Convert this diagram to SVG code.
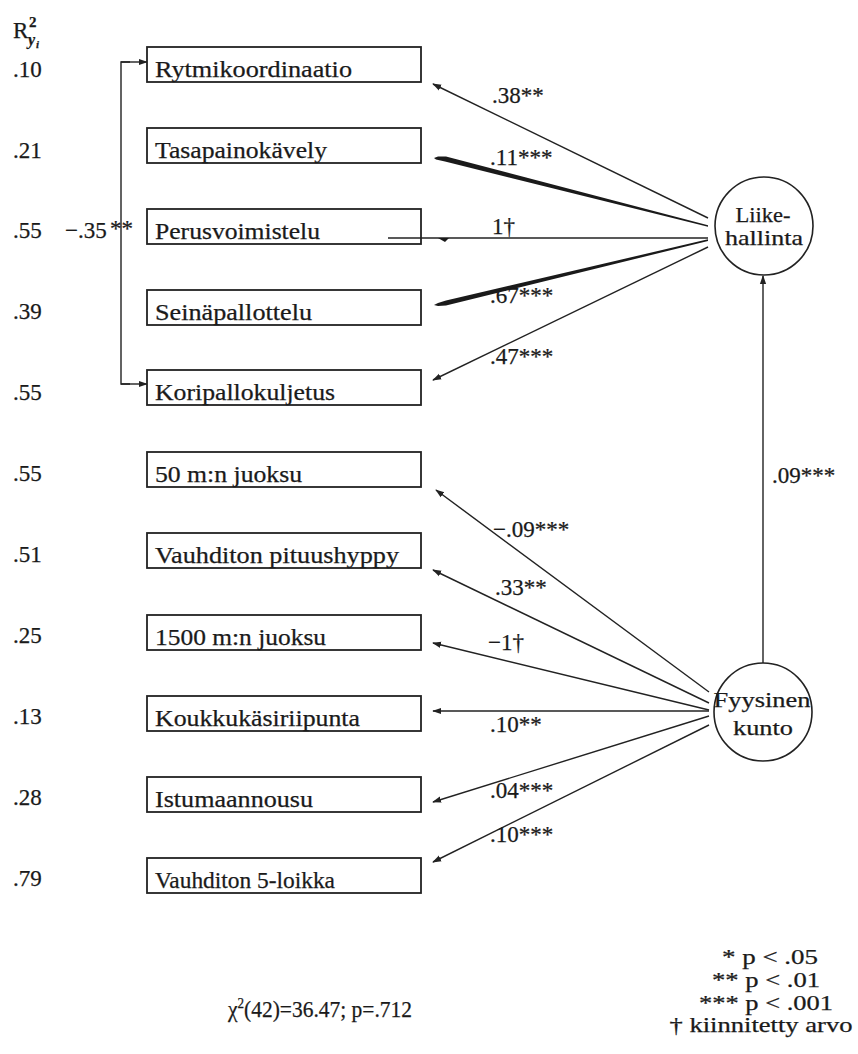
<svg xmlns="http://www.w3.org/2000/svg" width="858" height="1054" viewBox="0 0 858 1054">
  <defs>
    <marker id="arrow" viewBox="0 0 10 10" refX="9" refY="5" markerWidth="9" markerHeight="9" markerUnits="userSpaceOnUse" orient="auto">
      <path d="M0,1.5 L10,5 L0,8.5 Z" fill="#222"/>
    </marker>
  </defs>
  <style>
    text { font-family: "Liberation Serif", "Times New Roman", serif; font-size: 23px; fill: #1a1a1a; stroke: #1a1a1a; stroke-width: 0.25; }
    .box { fill: #fff; stroke: #222; stroke-width: 1.8; }
    .latent { fill: #fff; stroke: #222; stroke-width: 1.6; }
    .path { fill: none; stroke: #222; stroke-width: 1.4; }
    .arr { marker-end: url(#arrow); }
    .wedge { fill: #1a1a1a; stroke: none; }
    .mid { text-anchor: middle; }
    .note { font-size: 21px; }
    .lat { font-size: 22px; }
    .idx { font-weight: bold; }
  </style>
  <rect width="858" height="1054" fill="#fff"/>

  <!-- column heading: squared multiple correlations -->
  <g id="r2-heading">
    <text x="13" y="38">R<tspan class="idx" x="29" y="27" font-size="15">2</tspan><tspan class="idx" x="28" y="45" font-size="16" font-style="italic">y</tspan><tspan class="idx" x="36" y="48" font-size="11" font-style="italic">i</tspan></text>
  </g>

  <!-- R² values -->
  <g id="r2-values">
    <text x="13" y="77">.10</text>
    <text x="13" y="158">.21</text>
    <text x="13" y="238">.55</text>
    <text x="13" y="319">.39</text>
    <text x="13" y="400">.55</text>
    <text x="13" y="481">.55</text>
    <text x="13" y="562">.51</text>
    <text x="13" y="643">.25</text>
    <text x="13" y="724">.13</text>
    <text x="13" y="805">.28</text>
    <text x="13" y="886">.79</text>
  </g>

  <!-- connectors -->
  <g id="connectors">
    <!-- residual covariance bracket -->
    <path class="path" d="M130,62 H121 V384 H130"/>
    <line class="path arr" x1="121" y1="62" x2="147" y2="62"/>
    <line class="path arr" x1="121" y1="384" x2="147" y2="384"/>
    <text x="65" y="238">−.35<tspan x="110" dy="-2">**</tspan></text>

    <!-- Liikehallinta loadings -->
    <line class="path arr" x1="708" y1="218" x2="433" y2="84"/>
    <polygon class="wedge" points="708,225.3 708,226.8 445,161.5 436,159.5 434,158 438,156.5 446,156.5"/>
    <line class="path" x1="708" y1="238" x2="388" y2="238"/>
    <polygon class="wedge" points="438,238 449,238 445,242"/>
    <polygon class="wedge" points="708,239.3 708,241 446,305.5 438,306 434,305 438,303 446,300.5"/>
    <line class="path arr" x1="708" y1="247" x2="433" y2="380"/>

    <text x="492" y="103">.38**</text>
    <text x="490" y="165">.11***</text>
    <text x="492" y="234">1†</text>
    <text x="490" y="303">.67***</text>
    <text x="490" y="364">.47***</text>

    <!-- structural path -->
    <line class="path arr" x1="763" y1="663" x2="763" y2="276"/>
    <text x="772" y="483">.09***</text>

    <!-- Fyysinen kunto loadings -->
    <line class="path arr" x1="709" y1="692" x2="436" y2="490"/>
    <line class="path arr" x1="709" y1="703" x2="433" y2="570"/>
    <line class="path arr" x1="709" y1="710" x2="433" y2="643"/>
    <line class="path arr" x1="709" y1="711" x2="433" y2="711"/>
    <line class="path arr" x1="709" y1="716" x2="433" y2="802"/>
    <line class="path arr" x1="709" y1="725" x2="433" y2="862"/>

    <text x="493" y="537">−.09***</text>
    <text x="495" y="595">.33**</text>
    <text x="488" y="650">−1†</text>
    <text x="490" y="732">.10**</text>
    <text x="490" y="798">.04***</text>
    <text x="490" y="842">.10***</text>
  </g>

  <!-- observed indicators -->
  <g id="rytmikoordinaatio">
    <rect class="box" x="147" y="47" width="274" height="35"/>
    <text x="155" y="77" textLength="197" lengthAdjust="spacingAndGlyphs">Rytmikoordinaatio</text>
  </g>
  <g id="tasapainokavely">
    <rect class="box" x="147" y="128" width="274" height="35"/>
    <text x="155" y="158" textLength="172" lengthAdjust="spacingAndGlyphs">Tasapainokävely</text>
  </g>
  <g id="perusvoimistelu">
    <rect class="box" x="147" y="209" width="274" height="35"/>
    <text x="155" y="239" textLength="165" lengthAdjust="spacingAndGlyphs">Perusvoimistelu</text>
    <line class="path" x1="388" y1="238" x2="421" y2="238"/>
  </g>
  <g id="seinapallottelu">
    <rect class="box" x="147" y="290" width="274" height="35"/>
    <text x="155" y="320" textLength="157" lengthAdjust="spacingAndGlyphs">Seinäpallottelu</text>
  </g>
  <g id="koripallokuljetus">
    <rect class="box" x="147" y="370" width="274" height="35"/>
    <text x="155" y="400" textLength="180" lengthAdjust="spacingAndGlyphs">Koripallokuljetus</text>
  </g>
  <g id="juoksu50">
    <rect class="box" x="147" y="452" width="274" height="35"/>
    <text x="155" y="482" textLength="147" lengthAdjust="spacingAndGlyphs">50 m:n juoksu</text>
  </g>
  <g id="pituushyppy">
    <rect class="box" x="147" y="533" width="274" height="35"/>
    <text x="155" y="563" textLength="244" lengthAdjust="spacingAndGlyphs">Vauhditon pituushyppy</text>
  </g>
  <g id="juoksu1500">
    <rect class="box" x="147" y="615" width="274" height="35"/>
    <text x="155" y="645" textLength="171" lengthAdjust="spacingAndGlyphs">1500 m:n juoksu</text>
  </g>
  <g id="koukkukasiriipunta">
    <rect class="box" x="147" y="696" width="274" height="35"/>
    <text x="155" y="726" textLength="205" lengthAdjust="spacingAndGlyphs">Koukkukäsiriipunta</text>
  </g>
  <g id="istumaannousu">
    <rect class="box" x="147" y="777" width="274" height="35"/>
    <text x="155" y="807" textLength="158" lengthAdjust="spacingAndGlyphs">Istumaannousu</text>
  </g>
  <g id="viisiloikka">
    <rect class="box" x="147" y="858" width="274" height="35"/>
    <text x="155" y="888" textLength="180" lengthAdjust="spacingAndGlyphs">Vauhditon 5-loikka</text>
  </g>

  <!-- latent factors -->
  <g id="liikehallinta">
    <circle class="latent" cx="764" cy="226" r="49"/>
    <text class="mid lat" x="763" y="222" textLength="55" lengthAdjust="spacingAndGlyphs">Liike-</text>
    <text class="mid lat" x="764" y="245" textLength="78" lengthAdjust="spacingAndGlyphs">hallinta</text>
  </g>
  <g id="fyysinen-kunto">
    <circle class="latent" cx="763" cy="712" r="49"/>
    <text class="mid lat" x="762" y="707" textLength="97" lengthAdjust="spacingAndGlyphs">Fyysinen</text>
    <text class="mid lat" x="763" y="735" textLength="60" lengthAdjust="spacingAndGlyphs">kunto</text>
  </g>

  <!-- fit statistic -->
  <g id="fit">
    <text x="228" y="1017" textLength="184" lengthAdjust="spacingAndGlyphs">χ<tspan dy="-9" font-size="14">2</tspan><tspan dy="9">(42)=36.47; p=.712</tspan></text>
  </g>

  <!-- significance legend -->
  <g id="legend">
    <text class="mid note" x="770" y="964" textLength="96" lengthAdjust="spacingAndGlyphs">* p &lt; .05</text>
    <text class="mid note" x="766" y="987" textLength="108" lengthAdjust="spacingAndGlyphs">** p &lt; .01</text>
    <text class="mid note" x="766" y="1010" textLength="134" lengthAdjust="spacingAndGlyphs">*** p &lt; .001</text>
    <text class="mid note" x="761" y="1032" textLength="183" lengthAdjust="spacingAndGlyphs">† kiinnitetty arvo</text>
  </g>
</svg>
